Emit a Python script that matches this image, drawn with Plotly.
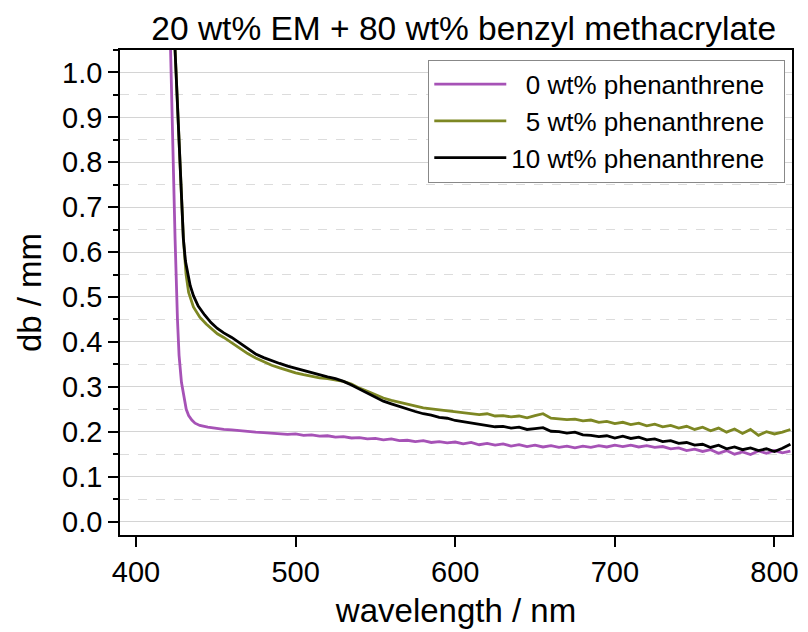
import plotly.graph_objects as go

# ---- data ----
tail_wl = [455, 460, 465, 470, 475, 480, 485, 490, 495, 500, 505, 510, 515, 520, 525, 530, 535, 540,
           545, 550, 555, 560, 565, 570, 575, 580, 585, 590, 595, 600, 605, 610, 615, 620, 625, 630,
           635, 640, 645, 650, 655, 660, 665, 670, 675, 680, 685, 690, 695, 700, 705, 710, 715, 720,
           725, 730, 735, 740, 745, 750, 755, 760, 765, 770, 775, 780, 785, 790, 795, 800, 805, 810]

wl_0 = [419, 420, 421.5, 423, 424.5, 426, 427, 428.5, 430, 431.5, 433, 435, 437, 440, 445, 450] + tail_wl
db_0 = [1.45, 1.30, 1.06, 0.82, 0.63, 0.45, 0.37, 0.31, 0.275, 0.25, 0.236, 0.226, 0.219, 0.214, 0.210, 0.207,
        0.205, 0.204, 0.202, 0.201, 0.199, 0.198, 0.197, 0.196, 0.194, 0.195, 0.192, 0.193, 0.190, 0.191,
        0.188, 0.189, 0.186, 0.187, 0.184, 0.185, 0.182, 0.184, 0.180, 0.181, 0.178, 0.180, 0.176, 0.178,
        0.175, 0.177, 0.173, 0.176, 0.171, 0.174, 0.170, 0.173, 0.168, 0.171, 0.167, 0.170, 0.166, 0.169,
        0.165, 0.168, 0.164, 0.168, 0.165, 0.169, 0.166, 0.170, 0.167, 0.170, 0.166, 0.169, 0.165, 0.167,
        0.162, 0.164, 0.158, 0.161, 0.156, 0.160, 0.152, 0.158, 0.150, 0.155, 0.149, 0.157, 0.152, 0.158,
        0.153, 0.157]

wl_5 = [421, 422, 424.5, 426, 428, 429.7, 431.4, 433, 436, 440, 444, 448, 451] + tail_wl
db_5 = [1.80, 1.50, 1.05, 0.92, 0.75, 0.63, 0.55, 0.51, 0.478, 0.455, 0.44, 0.428, 0.418,
        0.410, 0.398, 0.386, 0.374, 0.364, 0.356, 0.348, 0.342, 0.336, 0.331, 0.327, 0.323, 0.320, 0.318,
        0.315, 0.312, 0.306, 0.297, 0.290, 0.282, 0.275, 0.270, 0.266, 0.261, 0.257, 0.253, 0.251, 0.249,
        0.247, 0.245, 0.243, 0.240, 0.238, 0.240, 0.235, 0.236, 0.233, 0.235, 0.231, 0.236, 0.240, 0.230,
        0.229, 0.227, 0.228, 0.224, 0.226, 0.221, 0.223, 0.218, 0.221, 0.216, 0.219, 0.213, 0.217, 0.211,
        0.214, 0.208, 0.212, 0.205, 0.210, 0.202, 0.208, 0.199, 0.206, 0.196, 0.205, 0.192, 0.200, 0.195,
        0.199, 0.205]

wl_10 = [421, 422, 424.5, 426, 428, 429.7, 431, 432.5, 434, 436, 439, 443, 447, 451] + tail_wl
db_10 = [1.80, 1.50, 1.05, 0.92, 0.75, 0.63, 0.58, 0.55, 0.525, 0.503, 0.48, 0.46, 0.443, 0.43,
         0.420, 0.410, 0.398, 0.385, 0.373, 0.365, 0.358, 0.352, 0.346, 0.341, 0.336, 0.331, 0.327, 0.322,
         0.318, 0.312, 0.304, 0.295, 0.286, 0.277, 0.268, 0.262, 0.256, 0.251, 0.245, 0.240, 0.237, 0.232,
         0.230, 0.225, 0.222, 0.219, 0.216, 0.214, 0.211, 0.212, 0.208, 0.210, 0.205, 0.207, 0.209, 0.201,
         0.200, 0.197, 0.199, 0.193, 0.192, 0.189, 0.191, 0.186, 0.190, 0.185, 0.188, 0.182, 0.184, 0.178,
         0.180, 0.174, 0.176, 0.170, 0.172, 0.165, 0.170, 0.162, 0.166, 0.160, 0.164, 0.158, 0.162, 0.156,
         0.163, 0.172]

names = ["\u00a0\u00a00 wt% phenanthrene\u00a0\u00a0", "\u00a0\u00a05 wt% phenanthrene\u00a0\u00a0",
         "10 wt% phenanthrene\u00a0\u00a0"]
colors = ["#A652B6", "#7D8723", "#000000"]

x_ticks = [400, 500, 600, 700, 800]
y_ticks = [0.0, 0.1, 0.2, 0.3, 0.4, 0.5, 0.6, 0.7, 0.8, 0.9, 1.0]

FONT = "Liberation Sans, Arial, sans-serif"

fig = go.Figure()
for wl, db, name, col in zip([wl_0, wl_5, wl_10], [db_0, db_5, db_10], names, colors):
    fig.add_trace(go.Scatter(x=wl, y=db, mode="lines", name=name,
                             line=dict(color=col, width=2.8)))

# page body adds an 8 px offset; margins compensate for it
fig.update_layout(
    width=808, height=632,
    margin=dict(l=112, r=24, t=42, b=105, autoexpand=False),
    paper_bgcolor="white", plot_bgcolor="white",
    font=dict(family=FONT, color="black"),
    title=dict(text="20 wt% EM + 80 wt% benzyl methacrylate", x=0.564, xref="container",
               xanchor="center", y=0.968, yanchor="middle", font=dict(size=33.5, color="black")),
    legend=dict(x=0.99, y=0.98, xanchor="right", yanchor="top", itemwidth=72,
                bgcolor="white", bordercolor="#888888", borderwidth=1,
                font=dict(size=26, color="black"), tracegroupgap=0),
    showlegend=True,
)

fig.update_xaxes(
    range=[390, 811], tickvals=x_ticks, ticks="outside", ticklen=10, tickwidth=1.5, tickcolor="black",
    showline=True, linecolor="black", linewidth=1.5, mirror=True, showgrid=False, zeroline=False,
    automargin=False,
    tickfont=dict(size=29), title=dict(text="wavelength / nm", font=dict(size=33), standoff=12),
)
fig.update_yaxes(
    range=[-0.03, 1.05], tickvals=y_ticks, tickformat=".1f", ticks="outside", ticklen=10, tickwidth=1.5,
    tickcolor="black", showline=True, linecolor="black", linewidth=1.5, mirror=True,
    showgrid=True, gridcolor="#d4d4d4", gridwidth=1, zeroline=False, automargin=False,
    minor=dict(dtick=0.05, tick0=0.05, ticks="outside", ticklen=5, tickcolor="black", tickwidth=1.5,
               showgrid=True, gridcolor="#dcdcdc", griddash="dash", gridwidth=1),
    tickfont=dict(size=29), title=dict(text="db / mm", font=dict(size=33), standoff=11),
)

fig.write_html("out.html")
